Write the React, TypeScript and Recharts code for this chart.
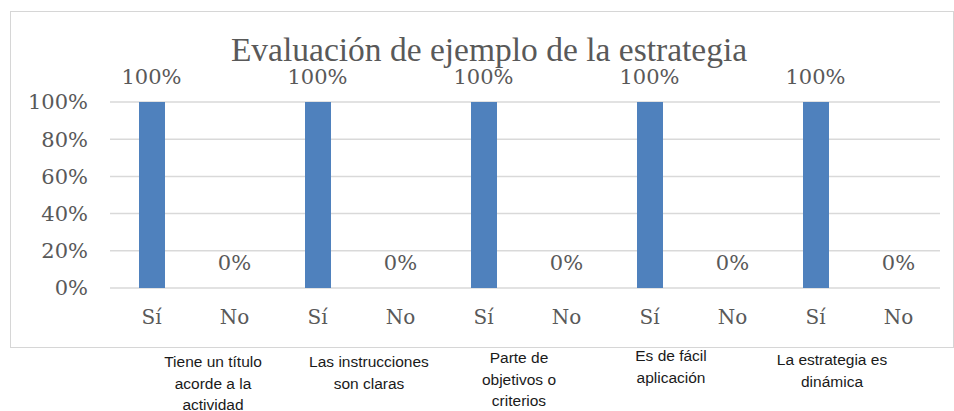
import React from "react";
import { ComposedChart, Bar, Line, XAxis, YAxis, CartesianGrid, LabelList } from "recharts";

const TITLE = "Evaluación de ejemplo de la estrategia";
const GROUP_LINES: string[][] = [
  ["Tiene un título", "acorde a la", "actividad"],
  ["Las instrucciones", "son claras"],
  ["Parte de", "objetivos o", "criterios"],
  ["Es de fácil", "aplicación"],
  ["La estrategia es", "dinámica"],
];
const ANSWERS = ["Sí", "No"];
const SI_VALUES = [100, 100, 100, 100, 100];
const NO_VALUES = [0, 0, 0, 0, 0];
const Y_TICKS = [0, 20, 40, 60, 80, 100];

// style-only offsets for the wrapped group labels (px)
const GROUP_DX = [20, 10, -6, -20, -25];
const GROUP_DY = [2, 2, -2, -4, 0];

const GROUP_NAMES = GROUP_LINES.map((l) => l.join(" "));
const data = GROUP_NAMES.flatMap((g, i) => [
  { group: g, answer: ANSWERS[0], value: SI_VALUES[i] },
  { group: g, answer: ANSWERS[1], value: NO_VALUES[i] },
]);

const TITLE_FONT = "'Liberation Serif', serif";
const NUM_FONT = "'DejaVu Serif', serif";
const SANS = "'Liberation Sans', Arial, sans-serif";
const GRAY = "#595959";

const GroupTick = (props: any) => {
  const { x, y, payload } = props;
  const idx = GROUP_NAMES.indexOf(payload.value);
  if (idx < 0) return <g />;
  const lines = GROUP_LINES[idx];
  return (
    <text
      x={x + GROUP_DX[idx]}
      y={y + 18 + GROUP_DY[idx]}
      textAnchor="middle"
      fontFamily={SANS}
      fontSize={15.5}
      fill="#1a1a1a"
    >
      {lines.map((ln, k) => (
        <tspan key={k} x={x + GROUP_DX[idx]} dy={k === 0 ? 0 : 21.5}>
          {ln}
        </tspan>
      ))}
    </text>
  );
};

export default function App() {
  return (
    <div style={{ position: "absolute", left: 0, top: 0, width: 954, height: 411, background: "#fff" }}>
      <div
        style={{
          position: "absolute",
          left: 10,
          top: 11,
          width: 944,
          height: 337,
          boxSizing: "border-box",
          border: "1px solid #d6d6d6",
        }}
      />
      <div
        style={{
          position: "absolute",
          left: 489,
          top: 30,
          transform: "translateX(-50%)",
          whiteSpace: "nowrap",
          fontFamily: TITLE_FONT,
          fontSize: 33.5,
          lineHeight: "40px",
          color: GRAY,
        }}
      >
        {TITLE}
      </div>
      <div style={{ position: "absolute", left: 0, top: 0 }}>
        <ComposedChart
          width={954}
          height={411}
          data={data}
          margin={{ top: 102, right: 14, bottom: 0, left: 10 }}
        >
          <CartesianGrid vertical={false} stroke="#d9d9d9" strokeWidth={1.5} />
          <YAxis
            width={100}
            domain={[0, 100]}
            ticks={Y_TICKS}
            tickFormatter={(v: number) => `${v}%`}
            axisLine={false}
            tickLine={false}
            tickSize={0}
            tickMargin={22}
            tick={{ fontFamily: NUM_FONT, fontSize: 21, fill: GRAY }}
          />
          <XAxis
            dataKey="answer"
            interval={0}
            height={59}
            axisLine={false}
            tickLine={false}
            tickSize={0}
            tickMargin={22}
            tick={{ fontFamily: NUM_FONT, fontSize: 20, fill: GRAY }}
          />
          <XAxis
            xAxisId="group"
            dataKey="group"
            allowDuplicatedCategory={false}
            interval={0}
            height={64}
            axisLine={false}
            tickLine={false}
            tickSize={0}
            tickMargin={0}
            tick={<GroupTick />}
          />
          <Bar dataKey="value" fill="#4f81bd" barSize={26} isAnimationActive={false} />
          <Line
            dataKey="value"
            stroke="none"
            dot={false}
            activeDot={false}
            legendType="none"
            isAnimationActive={false}
          >
            <LabelList
              dataKey="value"
              position="top"
              offset={18}
              formatter={(v: any) => `${v}%`}
              style={{ fontFamily: NUM_FONT, fontSize: 21, fill: GRAY }}
            />
          </Line>
        </ComposedChart>
      </div>
    </div>
  );
}
